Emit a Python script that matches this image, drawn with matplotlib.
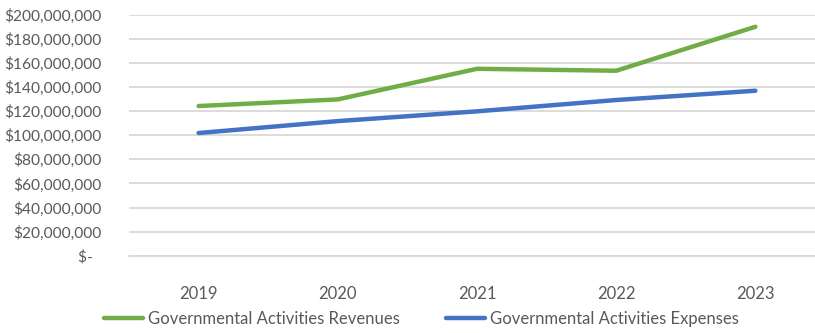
import matplotlib
matplotlib.use("Agg")
import matplotlib.pyplot as plt
from matplotlib.ticker import FuncFormatter

years = ["2019", "2020", "2021", "2022", "2023"]
revenues = [124.2e6, 129.7e6, 155.1e6, 153.5e6, 190.0e6]
expenses = [101.8e6, 111.7e6, 119.8e6, 129.2e6, 136.9e6]
series_labels = ["Governmental Activities Revenues", "Governmental Activities Expenses"]

plt.rcParams["font.family"] = ["Lato", "DejaVu Sans"]
text_color = "#595959"
grid_color = "#d9d9d9"


def money(value, _pos):
    if value == 0:
        return "$-  "
    return f"${value:,.0f}"


fig = plt.figure(figsize=(8.15, 3.33), dpi=100)
ax = fig.add_axes([129 / 815, 1 - 255.7 / 333, 696 / 815, (255.7 - 14.7) / 333])

x = range(len(years))
ax.plot(x, revenues, color="#70ad47", lw=3.2, solid_capstyle="round", label=series_labels[0])
ax.plot(x, expenses, color="#4472c4", lw=3.2, solid_capstyle="round", label=series_labels[1])

ax.set_xlim(-0.5, len(years) - 0.5)
ax.set_ylim(0, 200e6)
ax.set_yticks([i * 20e6 for i in range(11)])
ax.yaxis.set_major_formatter(FuncFormatter(money))
ax.set_xticks(list(x))
ax.set_xticklabels(years)

ax.grid(axis="y", color=grid_color, lw=1.3)
ax.set_axisbelow(True)
for side in ["top", "right", "left"]:
    ax.spines[side].set_visible(False)
ax.spines["bottom"].set_color(grid_color)
ax.spines["bottom"].set_linewidth(1.3)
ax.tick_params(length=0, colors=text_color)
ax.tick_params(axis="x", pad=22, labelsize=12)
ax.tick_params(axis="y", pad=20, labelsize=11.2)

leg = fig.legend(loc="center", bbox_to_anchor=(0.517, 1 - 319 / 333), ncol=2, frameon=False,
                 fontsize=12, handlelength=2.3, handletextpad=0.3, columnspacing=2.8)
for t in leg.get_texts():
    t.set_color(text_color)

fig.savefig("out.png", dpi=100)
